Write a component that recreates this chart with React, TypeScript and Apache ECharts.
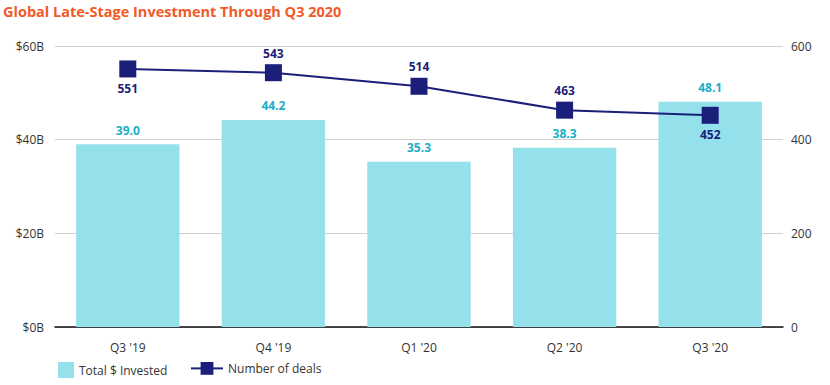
import React, { useEffect, useRef } from "react";
import * as echarts from "echarts";

const categories = ["Q3 '19", "Q4 '19", "Q1 '20", "Q2 '20", "Q3 '20"];
const invested = [39.0, 44.2, 35.3, 38.3, 48.1];
const deals = [551, 543, 514, 463, 452];
const dealLabelPos = ["bottom", "top", "top", "top", "bottom"];

const FONT = "'Open Sans', sans-serif";

export default function App() {
  const ref = useRef<HTMLDivElement>(null);
  useEffect(() => {
    if (!ref.current) return;
    const chart = echarts.init(ref.current, undefined, { renderer: "svg" });
    chart.setOption({
      animation: false,
      textStyle: { fontFamily: FONT },
      title: {
        text: "Global Late-Stage Investment Through Q3 2020",
        left: -2,
        top: -1,
        textStyle: { color: "#F15A29", fontSize: 14.5, fontWeight: "bold", fontFamily: FONT },
      },
      grid: { left: 55, right: 47, top: 46, bottom: 58, containLabel: false },
      legend: [
        {
          top: 357,
          left: 53,
          itemWidth: 16,
          itemHeight: 16,
          itemGap: 8,
          textStyle: { color: "#333", fontSize: 12, fontFamily: FONT },
          data: [{ name: "Total $ Invested", icon: "rect" }],
        },
        {
          top: 357,
          left: 185,
          itemWidth: 32,
          itemHeight: 16,
          textStyle: { color: "#333", fontSize: 12, fontFamily: FONT },
          data: [{ name: "Number of deals" }],
        },
      ],
      xAxis: {
        type: "category",
        data: categories,
        axisTick: { show: false },
        axisLine: { lineStyle: { color: "#111", width: 1.5 } },
        axisLabel: { color: "#333", fontSize: 12, margin: 14, fontFamily: FONT },
      },
      yAxis: [
        {
          type: "value",
          min: 0,
          max: 60,
          interval: 20,
          axisLabel: { formatter: (v: number) => `$${v}B`, color: "#333", fontSize: 12, margin: 11, fontFamily: FONT },
          splitLine: { lineStyle: { color: "#cfcfcf" } },
          axisLine: { show: false },
          axisTick: { show: false },
        },
        {
          type: "value",
          min: 0,
          max: 600,
          interval: 200,
          axisLabel: { color: "#333", fontSize: 12, margin: 8, fontFamily: FONT },
          splitLine: { show: false },
          axisLine: { show: false },
          axisTick: { show: false },
        },
      ],
      series: [
        {
          name: "Total $ Invested",
          type: "bar",
          data: invested,
          barWidth: "71%",
          itemStyle: { color: "#94E1EC" },
          label: {
            show: true,
            position: "top",
            distance: 8,
            color: "#1BAFC6",
            fontWeight: "bold",
            fontSize: 12,
            formatter: (p: any) => Number(p.value).toFixed(1),
          },
        },
        {
          name: "Number of deals",
          type: "line",
          yAxisIndex: 1,
          data: deals.map((v, i) => ({
            value: v,
            label: { position: dealLabelPos[i] },
          })),
          symbol: "rect",
          symbolSize: 17,
          lineStyle: { color: "#1B1F7A", width: 2 },
          itemStyle: { color: "#1B1F7A" },
          label: {
            show: true,
            distance: 5,
            color: "#1B1F7A",
            fontWeight: "bold",
            fontSize: 12,
          },
        },
      ],
    });
    return () => chart.dispose();
  }, []);
  return <div ref={ref} style={{ position: "absolute", left: 0, top: 0, width: 830, height: 385 }} />;
}
